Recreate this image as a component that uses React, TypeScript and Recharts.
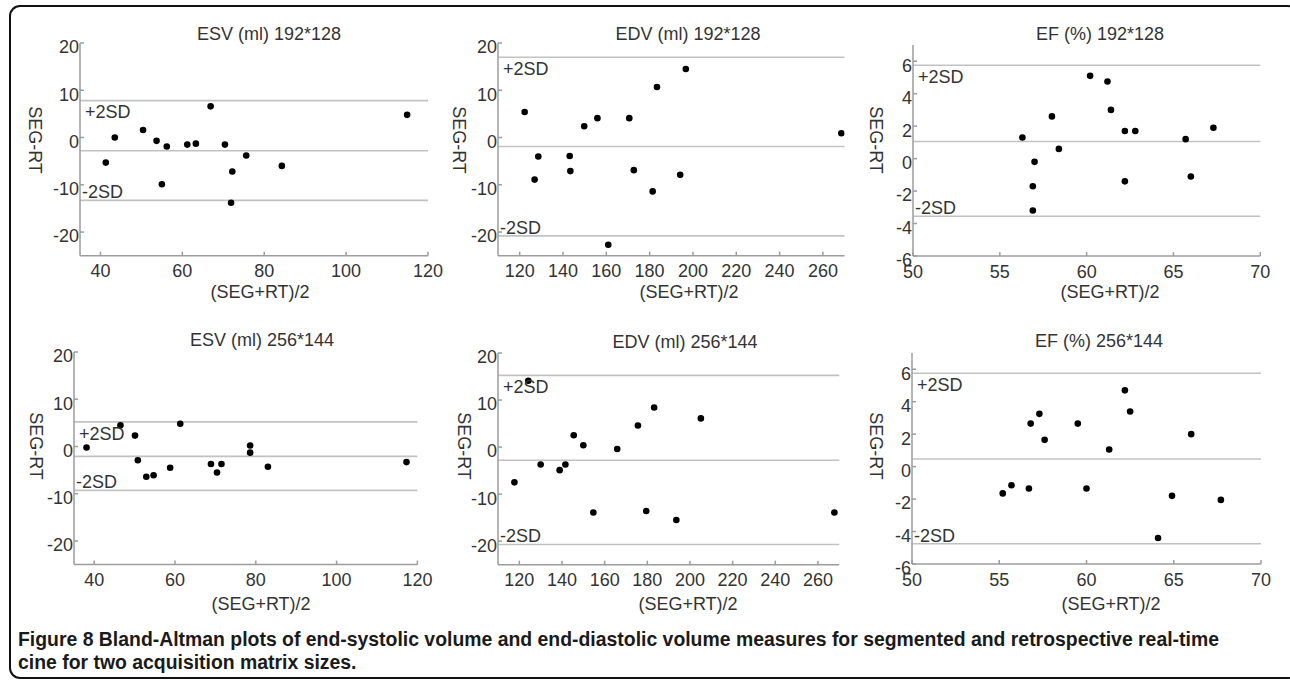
import React from "react";
import { ScatterChart, Scatter, XAxis, YAxis, ReferenceLine } from "recharts";

// ESV (ml) 192*128
const esv192Avg = [41.3, 43.5, 50.4, 53.7, 56.2, 55.0, 61.2, 63.3, 66.9, 70.4, 72.2, 71.9, 75.6, 84.3, 114.9];
const esv192Diff = [-5.3, 0, 1.6, -0.7, -1.9, -9.9, -1.5, -1.3, 6.6, -1.5, -7.2, -13.8, -3.8, -6.0, 4.8];
const esv192Lines = [7.8, -2.8, -13.3]; // +2SD, mean, -2SD

// EDV (ml) 192*128
const edv192Avg = [122.3, 128.6, 126.9, 143.1, 143.4, 149.8, 155.9, 160.9, 170.6, 172.7, 181.4, 183.4, 194.1, 196.7, 268.5];
const edv192Diff = [5.4, -4.0, -8.9, -3.9, -7.1, 2.4, 4.1, -22.7, 4.1, -6.9, -11.4, 10.7, -7.9, 14.5, 0.9];
const edv192Lines = [17.0, -1.9, -20.8];

// EF (%) 192*128
const ef192Avg = [56.3, 57.0, 56.9, 56.9, 58.0, 58.4, 60.2, 61.2, 61.4, 62.2, 62.8, 62.2, 65.7, 66.0, 67.3];
const ef192Diff = [1.3, -0.2, -1.7, -3.2, 2.6, 0.6, 5.1, 4.75, 3.0, 1.7, 1.7, -1.4, 1.2, -1.1, 1.9];
const ef192Lines = [5.75, 1.05, -3.55];

// ESV (ml) 256*144
const esv256Avg = [38.1, 46.5, 50.1, 50.8, 52.9, 54.7, 58.8, 61.3, 68.9, 70.4, 71.5, 78.6, 78.6, 83.0, 117.3];
const esv256Diff = [-0.2, 4.5, 2.3, -2.9, -6.4, -6.1, -4.5, 4.8, -3.7, -5.5, -3.7, 0.2, -1.3, -4.3, -3.3];
const esv256Lines = [5.2, -2.1, -9.3];

// EDV (ml) 256*144
const edv256Avg = [117.7, 124.2, 130.0, 138.9, 141.6, 145.5, 150.0, 154.7, 165.9, 175.6, 179.5, 183.2, 193.6, 205.1, 267.7];
const edv256Diff = [-7.5, 14.1, -3.7, -4.9, -3.7, 2.5, 0.4, -13.9, -0.4, 4.6, -13.6, 8.4, -15.5, 6.1, -13.9];
const edv256Lines = [15.25, -2.8, -20.7];

// EF (%) 256*144
const ef256Avg = [55.2, 55.7, 56.7, 56.8, 57.3, 57.6, 59.5, 60.0, 61.3, 62.2, 62.5, 64.1, 64.9, 66.0, 67.7];
const ef256Diff = [-1.65, -1.15, -1.35, 2.65, 3.25, 1.65, 2.65, -1.35, 1.05, 4.7, 3.4, -4.4, -1.8, 2.0, -2.05];
const ef256Lines = [5.75, 0.47, -4.75];

const volTicksY = [-20, -10, 0, 10, 20];
const esvTicksX = [40, 60, 80, 100, 120];
const edvTicksX = [120, 140, 160, 180, 200, 220, 240, 260];
const efTicksX = [50, 55, 60, 65, 70];
const efTicksY = [-6, -4, -2, 0, 2, 4, 6];

const FONT = '"Liberation Sans", Arial, Helvetica, sans-serif';
const TEXT = "#333";
const AXIS = "#9c9c9c";

type PanelProps = {
  title: string;
  box: number[]; // plot area: x0, y0, x1, y1
  xDomain: number[];
  yDomain: number[];
  xTicks: number[];
  yTicks: number[];
  xs: number[];
  ys: number[];
  lines: number[];
  titleAt: number[];
  xLabelAt: number[];
  yLabelAt: number[];
};

const Dot = (p: any) => <circle cx={p.cx} cy={p.cy} r={3.3} fill="#000" />;

function Panel(props: PanelProps) {
  const { title, box, xDomain, yDomain, xTicks, yTicks, xs, ys, lines, titleAt, xLabelAt, yLabelAt } = props;
  const [x0, y0, x1, y1] = box;
  const ML = 60, MT = 40, MR = 20, MB = 40;
  const data = xs.map((x, i) => ({ x, y: ys[i] }));
  const tickStyle = { fill: TEXT, fontSize: 18, fontFamily: FONT };
  const lbl = { fill: TEXT, fontSize: 18, fontFamily: FONT };

  return (
    <>
      <div style={{ position: "absolute", left: x0 - ML, top: y0 - MT }}>
        <ScatterChart
          width={x1 - x0 + ML + MR}
          height={y1 - y0 + MT + MB}
          margin={{ top: MT, right: MR, bottom: 0, left: 0 }}
        >
          <XAxis type="number" dataKey="x" domain={xDomain} ticks={xTicks} allowDataOverflow
            height={MB} stroke={AXIS} strokeWidth={1.5} tickSize={-4} tickMargin={13}
            fontSize={18} tick={tickStyle} interval={0} />
          <XAxis xAxisId="top" orientation="top" type="number" domain={xDomain} ticks={xTicks}
            allowDataOverflow height={0} mirror tick={false} tickSize={4} stroke={AXIS} strokeWidth={1.5} />
          <YAxis type="number" dataKey="y" domain={yDomain} ticks={yTicks} allowDataOverflow
            width={ML} stroke={AXIS} strokeWidth={1.5} tickSize={-4} tickMargin={5}
            fontSize={18} tick={{ ...tickStyle, dy: 4 }} interval={0} />
          <YAxis yAxisId="right" orientation="right" type="number" domain={yDomain} ticks={yTicks}
            allowDataOverflow width={0} mirror tick={false} tickSize={4} stroke={AXIS} strokeWidth={1.5} />
          <ReferenceLine y={lines[0]} stroke="#c2c2c2" strokeWidth={1.6}
            label={{ value: "+2SD", position: "insideTopLeft", offset: 5, ...lbl }} />
          <ReferenceLine y={lines[1]} stroke="#c2c2c2" strokeWidth={1.6} />
          <ReferenceLine y={lines[2]} stroke="#c2c2c2" strokeWidth={1.6}
            label={{ value: "-2SD", position: "insideBottomLeft", offset: 2, ...lbl }} />
          <Scatter data={data} shape={Dot} isAnimationActive={false} />
        </ScatterChart>
      </div>
      <div style={centered(titleAt)}>{title}</div>
      <div style={centered(xLabelAt)}>(SEG+RT)/2</div>
      <div style={{ ...centered(yLabelAt), transform: "translate(-50%, -50%) rotate(90deg)" }}>SEG-RT</div>
    </>
  );
}

function centered(at: number[]): React.CSSProperties {
  return {
    position: "absolute",
    left: at[0],
    top: at[1],
    transform: "translate(-50%, -50%)",
    whiteSpace: "nowrap",
    fontFamily: FONT,
    fontSize: 18,
    lineHeight: "20px",
    color: TEXT,
  };
}

export default function App() {
  return (
    <div style={{ position: "absolute", left: 0, top: 0, width: 1290, height: 683, background: "#fff", overflow: "hidden" }}>
      <div style={{ position: "absolute", left: 9, top: 5, width: 1290, height: 674, border: "2px solid #111", borderRadius: 11, boxSizing: "border-box" }} />

      <Panel title="ESV (ml) 192*128" box={[80, 43.3, 428, 256]} xDomain={[35, 120]} yDomain={[-25, 20]}
        xTicks={esvTicksX} yTicks={volTicksY} xs={esv192Avg} ys={esv192Diff} lines={esv192Lines}
        titleAt={[269, 34]} xLabelAt={[260, 292]} yLabelAt={[35, 140]} />
      <Panel title="EDV (ml) 192*128" box={[497.7, 43.3, 844.3, 256]} xDomain={[110, 270]} yDomain={[-25, 20]}
        xTicks={edvTicksX} yTicks={volTicksY} xs={edv192Avg} ys={edv192Diff} lines={edv192Lines}
        titleAt={[688, 34]} xLabelAt={[689, 292]} yLabelAt={[459, 140]} />
      <Panel title="EF (%) 192*128" box={[912.7, 45, 1260, 256]} xDomain={[50, 70]} yDomain={[-6, 7]}
        xTicks={efTicksX} yTicks={efTicksY} xs={ef192Avg} ys={ef192Diff} lines={ef192Lines}
        titleAt={[1100, 34]} xLabelAt={[1110, 292]} yLabelAt={[876, 140]} />

      <Panel title="ESV (ml) 256*144" box={[74.3, 351.7, 417.7, 564.3]} xDomain={[35, 120]} yDomain={[-25, 20]}
        xTicks={esvTicksX} yTicks={volTicksY} xs={esv256Avg} ys={esv256Diff} lines={esv256Lines}
        titleAt={[262, 340]} xLabelAt={[261, 604]} yLabelAt={[35.5, 446]} />
      <Panel title="EDV (ml) 256*144" box={[497.7, 353.3, 839, 565]} xDomain={[110, 270]} yDomain={[-25, 20]}
        xTicks={edvTicksX} yTicks={volTicksY} xs={edv256Avg} ys={edv256Diff} lines={edv256Lines}
        titleAt={[685, 342]} xLabelAt={[688, 604]} yLabelAt={[464, 446]} />
      <Panel title="EF (%) 256*144" box={[911.7, 353.3, 1260.7, 564.3]} xDomain={[50, 70]} yDomain={[-6, 7]}
        xTicks={efTicksX} yTicks={efTicksY} xs={ef256Avg} ys={ef256Diff} lines={ef256Lines}
        titleAt={[1099, 341]} xLabelAt={[1111, 604]} yLabelAt={[876, 446]} />

      <div style={{ position: "absolute", left: 18, top: 628, fontFamily: '"Liberation Sans", Arial, sans-serif', fontWeight: 700, fontSize: 20, lineHeight: "23px", color: "#1a1a1a", whiteSpace: "nowrap", transform: "scaleX(0.97)", transformOrigin: "0 0" }}>
        <div>Figure 8 Bland-Altman plots of end-systolic volume and end-diastolic volume measures for segmented and retrospective real-time</div>
        <div>cine for two acquisition matrix sizes.</div>
      </div>
    </div>
  );
}
